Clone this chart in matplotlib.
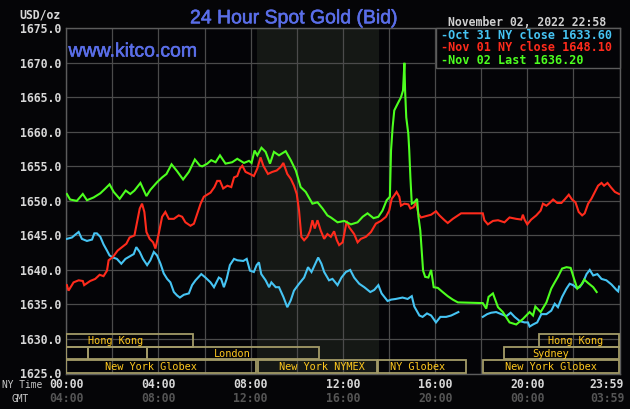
import numpy as np
import matplotlib
matplotlib.use("Agg")
import matplotlib.pyplot as plt
from matplotlib.patches import Rectangle
import matplotlib.transforms as mtransforms
import matplotlib.patheffects as pe

# ---------------- data (hours NY time, USD/oz) ----------------
oct31_pts = [(0.03,1644.5),(0.25,1644.7),(0.39,1645.1),(0.54,1645.5),(0.68,1644.5),(0.90,1644.2),(1.12,1644.4),
    (1.22,1645.3),(1.33,1645.3),(1.48,1644.8),(1.62,1643.7),(1.77,1642.8),(1.88,1642.1),(2.03,1641.8),(2.20,1641.6),
    (2.39,1640.9),(2.57,1641.6),(2.78,1642.0),(2.93,1642.3),(3.04,1643.3),(3.19,1642.6),(3.33,1641.6),(3.51,1640.7),
    (3.65,1641.4),(3.80,1642.6),(3.94,1642.1),(4.09,1640.9),(4.23,1639.5),(4.38,1638.7),(4.52,1638.2),(4.67,1636.8),
    (4.81,1636.3),(4.93,1636.0),(5.10,1636.4),(5.32,1636.6),(5.46,1637.8),(5.61,1638.5),(5.86,1639.4),(6.04,1638.9),
    (6.26,1638.2),(6.41,1637.5),(6.62,1638.9),(6.72,1638.7),(6.84,1637.5),(6.96,1638.7),(7.10,1640.7),(7.28,1641.6),
    (7.42,1641.4),(7.68,1641.3),(7.83,1641.6),(7.97,1639.9),(8.14,1639.7),(8.26,1640.7),(8.36,1641.1),(8.46,1639.4),
    (8.65,1638.5),(8.80,1637.5),(8.90,1638.2),(9.09,1637.5),(9.23,1637.5),(9.42,1636.1),(9.59,1634.6),(9.74,1635.6),
    (9.88,1637.0),(10.10,1638.0),(10.32,1638.9),(10.49,1640.4),(10.64,1639.7),(10.78,1640.7),(10.93,1641.8),
    (11.07,1640.9),(11.19,1639.7),(11.40,1638.5),(11.55,1638.7),(11.77,1637.8),(11.94,1638.9),(12.13,1639.7),
    (12.32,1640.0),(12.49,1638.9),(12.71,1638.0),(12.93,1637.5),(13.19,1636.8),(13.36,1637.1),(13.54,1637.8),
    (13.68,1636.6),(13.94,1635.5),(14.09,1635.7),(14.30,1635.8),(14.59,1636.0),(14.81,1635.8),(14.99,1636.2),
    (15.10,1634.7),(15.32,1633.4),(15.46,1633.2),(15.65,1633.7),(15.83,1633.4),(16.04,1632.4),(16.23,1633.2),
    (16.48,1633.2),(16.70,1633.4),(17.01,1633.9),(17.5,None),
    (18.07,1633.2),(18.26,1633.6),(18.43,1633.8),(18.65,1633.9),(18.87,1633.6),(19.09,1633.3),(19.28,1633.8),
    (19.45,1633.2),(19.67,1632.6),(19.88,1632.4),(20.03,1632.4),(20.10,1631.8),(20.25,1632.1),(20.43,1632.4),
    (20.61,1633.6),(20.83,1633.6),(21.04,1634.1),(21.19,1635.1),(21.33,1634.6),(21.51,1636.1),(21.70,1637.3),
    (21.84,1638.0),(21.99,1637.8),(22.13,1637.4),(22.27,1637.5),(22.42,1638.2),(22.57,1639.4),(22.71,1640.0),
    (22.86,1639.2),(23.04,1639.4),(23.22,1638.7),(23.43,1638.5),(23.65,1637.9),(23.87,1637.1),(23.94,1636.9),
    (23.98,1637.6)]

nov01_pts = [(0.03,1637.8),(0.10,1637.0),(0.32,1638.2),(0.54,1638.5),(0.72,1638.4),(0.78,1637.8),(1.04,1638.4),
    (1.26,1638.7),(1.45,1639.3),(1.62,1639.1),(1.77,1639.9),(1.84,1641.4),(2.03,1641.9),(2.23,1642.8),(2.42,1643.3),
    (2.61,1643.8),(2.75,1644.7),(2.96,1645.0),(3.07,1646.9),(3.19,1648.9),(3.29,1649.6),(3.39,1648.4),(3.48,1645.5),
    (3.62,1644.5),(3.77,1644.0),(3.87,1643.1),(4.01,1645.2),(4.16,1647.7),(4.30,1648.4),(4.45,1647.4),(4.67,1647.4),
    (4.88,1647.9),(5.03,1647.7),(5.17,1646.9),(5.39,1646.4),(5.54,1646.7),(5.68,1648.1),(5.83,1649.6),(5.97,1650.6),
    (6.26,1651.2),(6.43,1652.0),(6.55,1652.9),(6.67,1652.9),(6.81,1651.8),(6.99,1652.2),(7.16,1652.0),(7.28,1653.4),
    (7.42,1653.6),(7.54,1654.7),(7.64,1655.1),(7.78,1654.2),(7.97,1653.9),(8.14,1653.6),(8.29,1654.7),(8.43,1656.3),
    (8.55,1655.1),(8.75,1653.9),(8.94,1654.2),(9.13,1654.4),(9.30,1654.9),(9.42,1655.5),(9.59,1653.9),(9.74,1653.2),
    (9.88,1652.2),(10.00,1651.0),(10.10,1648.6),(10.20,1644.8),(10.32,1644.3),(10.46,1644.8),(10.58,1645.7),
    (10.68,1647.2),(10.78,1646.0),(10.90,1647.2),(11.04,1645.7),(11.19,1644.5),(11.33,1645.2),(11.48,1644.8),
    (11.62,1645.6),(11.74,1644.3),(11.84,1643.6),(11.99,1644.0),(12.09,1645.7),(12.17,1647.1),(12.27,1646.2),
    (12.49,1645.2),(12.64,1644.0),(12.78,1644.5),(13.00,1644.8),(13.22,1645.5),(13.43,1646.7),(13.65,1647.1),
    (13.87,1647.7),(14.01,1648.6),(14.12,1650.3),(14.23,1650.8),(14.33,1651.3),(14.45,1650.6),(14.52,1649.3),
    (14.67,1649.6),(14.84,1649.5),(14.93,1648.9),(15.07,1649.1),(15.17,1649.8),(15.28,1648.1),(15.39,1647.6),
    (15.61,1647.8),(15.83,1648.0),(16.04,1648.5),(16.19,1647.9),(16.41,1647.2),(16.55,1646.8),(16.77,1647.4),
    (16.99,1647.9),(17.13,1648.2),(18.07,1648.2),(18.14,1647.2),(18.29,1646.6),(18.51,1647.1),(18.73,1647.2),
    (19.01,1646.9),(19.23,1647.6),(19.52,1647.4),(19.74,1647.3),(19.81,1648.0),(19.88,1647.3),(20.00,1646.6),
    (20.17,1647.3),(20.39,1647.9),(20.58,1648.6),(20.68,1649.6),(20.83,1649.3),(20.97,1649.7),(21.12,1650.2),
    (21.30,1649.7),(21.48,1649.7),(21.62,1650.2),(21.80,1650.9),(21.94,1650.2),(22.09,1649.8),(22.23,1648.4),
    (22.38,1647.9),(22.49,1648.2),(22.64,1649.6),(22.78,1650.3),(22.93,1651.3),(23.07,1652.2),(23.22,1652.6),
    (23.33,1652.2),(23.48,1652.6),(23.62,1652.0),(23.80,1651.3),(23.98,1651.0)]

nov02_pts = [(0.03,1651.0),(0.17,1650.2),(0.46,1650.0),(0.72,1651.0),(0.90,1650.1),(1.19,1650.5),(1.48,1651.1),
    (1.70,1651.8),(1.88,1652.4),(2.06,1651.3),(2.32,1650.3),(2.58,1651.5),(2.78,1651.0),(2.96,1651.5),(3.22,1652.6),
    (3.48,1650.7),(3.65,1651.6),(3.94,1652.7),(4.16,1653.4),(4.35,1653.9),(4.57,1655.3),(4.81,1654.3),(5.07,1653.1),
    (5.32,1654.2),(5.58,1656.0),(5.80,1655.1),(5.90,1655.0),(6.12,1655.4),(6.29,1655.9),(6.48,1655.6),(6.67,1656.6),
    (6.91,1655.4),(7.20,1655.6),(7.42,1656.1),(7.71,1655.5),(7.93,1655.8),(8.04,1655.5),(8.17,1657.3),(8.29,1656.6),
    (8.47,1657.7),(8.65,1657.1),(8.84,1655.4),(9.01,1657.1),(9.23,1656.6),(9.52,1657.2),(9.74,1655.9),(9.96,1654.4),
    (10.17,1652.0),(10.39,1651.3),(10.68,1649.6),(10.90,1649.8),(11.12,1648.9),(11.33,1647.9),(11.48,1647.6),
    (11.77,1646.9),(12.06,1647.1),(12.35,1646.6),(12.64,1646.9),(12.86,1647.7),(13.07,1648.2),(13.33,1647.5),
    (13.54,1647.7),(13.72,1648.6),(13.90,1650.1),(14.04,1650.6),(14.09,1657.3),(14.16,1660.7),(14.23,1663.1),
    (14.38,1664.1),(14.52,1665.0),(14.61,1666.0),(14.67,1670.0),(14.70,1666.0),(14.75,1662.1),(14.84,1659.7),
    (14.88,1657.3),(14.93,1653.4),(14.99,1649.6),(15.10,1649.8),(15.22,1650.3),(15.28,1647.7),(15.36,1645.7),
    (15.42,1642.8),(15.48,1639.9),(15.57,1639.0),(15.71,1638.9),(15.83,1640.0),(15.94,1637.5),(16.12,1637.4),
    (16.33,1636.8),(16.55,1636.2),(16.77,1635.7),(16.99,1635.3),(18.07,1635.2),(18.22,1634.4),(18.32,1636.1),
    (18.51,1636.6),(18.73,1634.6),(18.94,1633.9),(19.23,1632.4),(19.52,1632.1),(19.81,1632.9),(20.10,1633.9),
    (20.25,1633.4),(20.35,1634.7),(20.58,1633.9),(20.83,1635.3),(21.04,1637.3),(21.19,1638.2),(21.33,1639.0),
    (21.51,1640.2),(21.70,1640.4),(21.88,1640.3),(22.03,1638.7),(22.17,1637.3),(22.35,1637.9),(22.47,1638.6),
    (22.64,1638.1),(22.86,1637.5),(23.01,1636.8)]

series_labels = ["-Oct 31 NY close 1633.60", "-Nov 01 NY close 1648.10", "-Nov 02 Last 1636.20"]
series_colors = ["#46c4f3", "#ff2b1c", "#4dff1f"]

y_ticks = [1625, 1630, 1635, 1640, 1645, 1650, 1655, 1660, 1665, 1670, 1675]
ny_hours = [0, 4, 8, 12, 16, 20, 23.46]
ny_labels = ["00:00", "04:00", "08:00", "12:00", "16:00", "20:00", "23:59"]
gmt_labels = ["04:00", "08:00", "12:00", "16:00", "20:00", "00:00", "03:59"]

# session boxes: (label, start hour, end hour, row, label centre hour)
sessions = [("Hong Kong", 0.0, 5.5, 0, 2.15), ("Hong Kong", 20.5, 24.0, 0, 22.1),
            ("", 0.0, 0.96, 1, None), ("", 0.96, 3.5, 1, None), ("London", 3.5, 10.97, 1, 7.19),
            ("Sydney", 19.0, 24.0, 1, 21.03),
            ("New York Globex", 0.0, 8.25, 2, 3.67), ("New York NYMEX", 8.33, 13.5, 2, 11.1),
            ("NY Globex", 13.53, 17.35, 2, 15.23), ("New York Globex", 18.07, 24.0, 2, 21.01)]
pit_start, pit_end = 8.28, 13.55

# ---------------- figure ----------------
W, H = 630, 409
BG = "#050507"
MONO = "DejaVu Sans Mono"
fig = plt.figure(figsize=(W/100, H/100), dpi=100, facecolor=BG)
L, R, T, B = 66.2, 619.5, 28.3, 373.5
ax = fig.add_axes([L/W, 1-B/H, (R-L)/W, (B-T)/H])
ax.set_facecolor("#040407")
ax.set_xlim(0, 24)
ax.set_ylim(1625, 1675)

ax.axvspan(pit_start, pit_end, color="#151815", zorder=0, lw=0)

ax.set_xticks(np.arange(0, 25, 2))
ax.set_yticks(y_ticks)
ax.grid(True, color="#4b4b4b", lw=0.9, zorder=1)
ax.set_axisbelow(True)
ax.set_xticklabels([])
ax.set_yticklabels([f"{v:.1f}" for v in y_ticks], fontfamily=MONO, fontweight="bold",
                   fontsize=8.3, color="#d8d8d8")
ax.tick_params(axis="both", length=0, pad=3.6)
for s in ax.spines.values():
    s.set_color("#5c5c5c")
    s.set_linewidth(1.0)

def unzip(pts):
    t = np.array([p[0] for p in pts], float)
    v = np.array([np.nan if p[1] is None else p[1] for p in pts], float)
    return t, v

for pts, c, z in zip([oct31_pts, nov01_pts, nov02_pts], series_colors, [3, 4, 5]):
    t, v = unzip(pts)
    ax.plot(t, v, color=c, lw=1.5, zorder=z, solid_joinstyle="miter")

# session boxes
trans = mtransforms.blended_transform_factory(ax.transData, ax.transAxes)
rows = [(334.3, 346.7), (347.3, 359.3), (360.3, 372.7)]
def axfrac(py):
    return (B - py) / (B - T)
for label, t0, t1, row, tc in sessions:
    ytop, ybot = rows[row]
    ax.add_patch(Rectangle((t0, axfrac(ybot)), t1 - t0, axfrac(ytop) - axfrac(ybot),
                           transform=trans, fill=False, ec="#a39b68", lw=1.3, zorder=6))
    if label:
        ax.text(tc, axfrac(ybot - 2.7), label, transform=trans, ha="center", va="baseline",
                fontfamily=MONO, fontsize=7.4, color="#ffc81e", zorder=7)

# legend box
lx0 = (436 - L) / (R - L)
ax.add_patch(Rectangle((lx0, axfrac(67.7)), 1 - lx0, 1 - axfrac(67.7), transform=ax.transAxes,
                       fc="#040407", ec="#5c5c5c", lw=1.0, zorder=8, clip_on=False))
for lab, c, by in zip(series_labels, series_colors, [39.0, 51.0, 64.0]):
    fig.text(441.0/W, 1-by/H, lab, ha="left", va="baseline", fontfamily=MONO, fontweight="bold",
             fontsize=8.5, color=c, zorder=9)

# x labels
xt = ax.get_xaxis_transform()
for h, a, g in zip(ny_hours, ny_labels, gmt_labels):
    ax.text(h, axfrac(388.5), a, transform=xt, ha="center", va="baseline", fontfamily=MONO,
            fontweight="bold", fontsize=8.3, color="#d8d8d8", clip_on=False)
    ax.text(h, axfrac(402.5), g, transform=xt, ha="center", va="baseline", fontfamily=MONO,
            fontweight="bold", fontsize=8.3, color="#555555", clip_on=False)
fig.text(2.5/W, 1-388.5/H, "NY Time", ha="left", va="baseline", fontfamily=MONO, fontsize=6.9, color="#c8c8c8")
fig.text(11/W, 1-402/H, "GMT", ha="left", va="baseline", fontfamily=MONO, fontsize=6.9, color="#c8c8c8")

# header texts
thick = [pe.withStroke(linewidth=0.4, foreground="#5a6ee8")]
fig.text(61/W, 1-18.3/H, "USD/oz", ha="right", va="baseline", fontfamily=MONO, fontweight="bold",
         fontsize=8.3, color="#d8d8d8")
fig.text(294.5/W, 1-23.3/H, "24 Hour Spot Gold (Bid)", ha="center", va="baseline",
         fontfamily="Liberation Sans", fontsize=14.0, color="#5a6ee8", path_effects=thick)
fig.text(68.5/W, 1-56.5/H, "www.kitco.com", ha="left", va="baseline",
         fontfamily="Liberation Sans", fontsize=14.0, color="#5a6ee8", zorder=9, path_effects=thick)
fig.text(448/W, 1-25.7/H, "November 02, 2022 22:58", ha="left", va="baseline", fontfamily=MONO,
         fontweight="bold", fontsize=8.3, color="#d0d0d0")

fig.savefig("out.png", dpi=100, facecolor=BG)
